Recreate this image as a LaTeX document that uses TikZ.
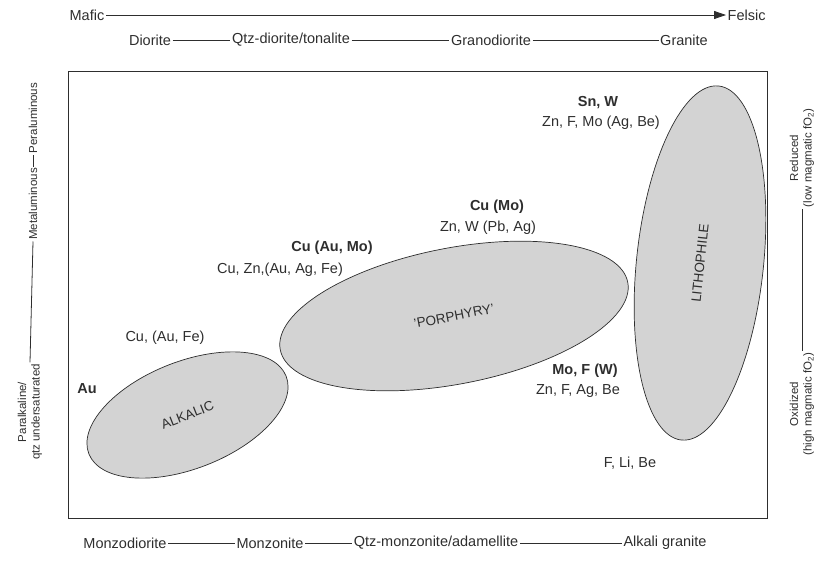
\documentclass[tikz,border=0pt]{standalone}
\usepackage{fontspec}
\setmainfont{Liberation Sans}
\usetikzlibrary{shapes.geometric,arrows.meta}
\definecolor{ink}{HTML}{2E2E2E}
\definecolor{fieldgray}{HTML}{D3D3D3}

\begin{document}
\begin{tikzpicture}[x=1pt, y=-1pt,
  lbl/.style={font=\fontsize{14.5}{16}\selectfont, text=ink, inner sep=1.5pt},
  metal/.style={lbl, font=\fontsize{14.5}{16}\selectfont\bfseries},
  side/.style={font=\fontsize{11.5}{13.5}\selectfont, text=ink, inner sep=1.5pt, rotate=90, align=center},
  link/.style={draw=ink, line width=0.8pt},
  field/.style={ellipse, draw=ink, line width=0.7pt, fill=fieldgray, inner sep=0pt,
    font=\fontsize{13.5}{15}\selectfont, text=ink}]

  \useasboundingbox (0,0) rectangle (822,560);

  % Mafic -> Felsic
  \node[lbl, anchor=east] (mafic) at (106,15) {Mafic};
  \node[lbl, anchor=west] (felsic) at (726,15) {Felsic};
  \draw[link, -{Triangle[length=12pt,width=8pt]}] (mafic) -- (felsic);

  % top row of rock names
  \node[lbl] (dio) at (150,40) {Diorite};
  \node[lbl] (tona) at (291,40) {Qtz-diorite/tonalite};
  \node[lbl] (grano) at (491,40) {Granodiorite};
  \node[lbl] (grani) at (684,40) {Granite};
  \draw[link] (dio) -- (tona);
  \draw[link] (tona) -- (grano);
  \draw[link] (grano) -- (grani);

  % bottom row of rock names
  \node[lbl] (mzdio) at (125,543) {Monzodiorite};
  \node[lbl] (mzon) at (270,543) {Monzonite};
  \node[lbl] (adam) at (436,543) {Qtz-monzonite/adamellite};
  \node[lbl] (alkgr) at (665,543) {Alkali granite};
  \draw[link] (mzdio) -- (mzon);
  \draw[link] (mzon) -- (adam);
  \draw[link] (adam) -- (alkgr);

  % frame
  \draw[draw=ink, line width=1pt] (68,71) rectangle (767,518);

  % left side: alumina saturation
  \node[side] (para) at (30,412) {Paralkaline/\\qtz undersaturated};
  \node[side] (meta) at (33,204) {Metaluminous};
  \node[side] (pera) at (33,118) {Peraluminous};
  \draw[link] (para.east) -- (meta.west);
  \draw[link] (meta.east) -- (pera.west);

  % right side: oxidation state
  \node[side] (red) at (802,158) {Reduced\\(low magmatic fO\textsubscript{2})};
  \node[side] (oxi) at (802,404) {Oxidized\\(high magmatic fO\textsubscript{2})};
  \draw[link] (oxi.east) -- (red.west);

  % fields
  \node[field, minimum width=212pt, minimum height=107pt, rotate=21.5] (alk) at (187.5,415) {ALKALIC};
  \node[field, minimum width=354pt, minimum height=136pt, rotate=11] (por) at (454,316) {'PORPHYRY'};
  \node[field, minimum width=356pt, minimum height=127pt, rotate=84] (lith) at (700,263) {LITHOPHILE};

  % metal associations
  \node[metal] (au) at (87,389) {Au};
  \node[lbl] (cuaufe) at (165,338) {Cu, (Au, Fe)};
  \node[metal] (cuaumo) at (332,248) {Cu (Au, Mo)};
  \node[lbl] (cuzn) at (280,270) {Cu, Zn,(Au, Ag, Fe)};
  \node[metal] (cumo) at (497,207) {Cu (Mo)};
  \node[lbl] (znw) at (488,228) {Zn, W (Pb, Ag)};
  \node[metal] (snw) at (598,103) {Sn, W};
  \node[lbl] (znfmo) at (601,123) {Zn, F, Mo (Ag, Be)};
  \node[metal] (mof) at (585,371) {Mo, F (W)};
  \node[lbl] (znfag) at (578,391) {Zn, F, Ag, Be};
  \node[lbl] (flibe) at (630,463) {F, Li, Be};

\end{tikzpicture}
\end{document}
